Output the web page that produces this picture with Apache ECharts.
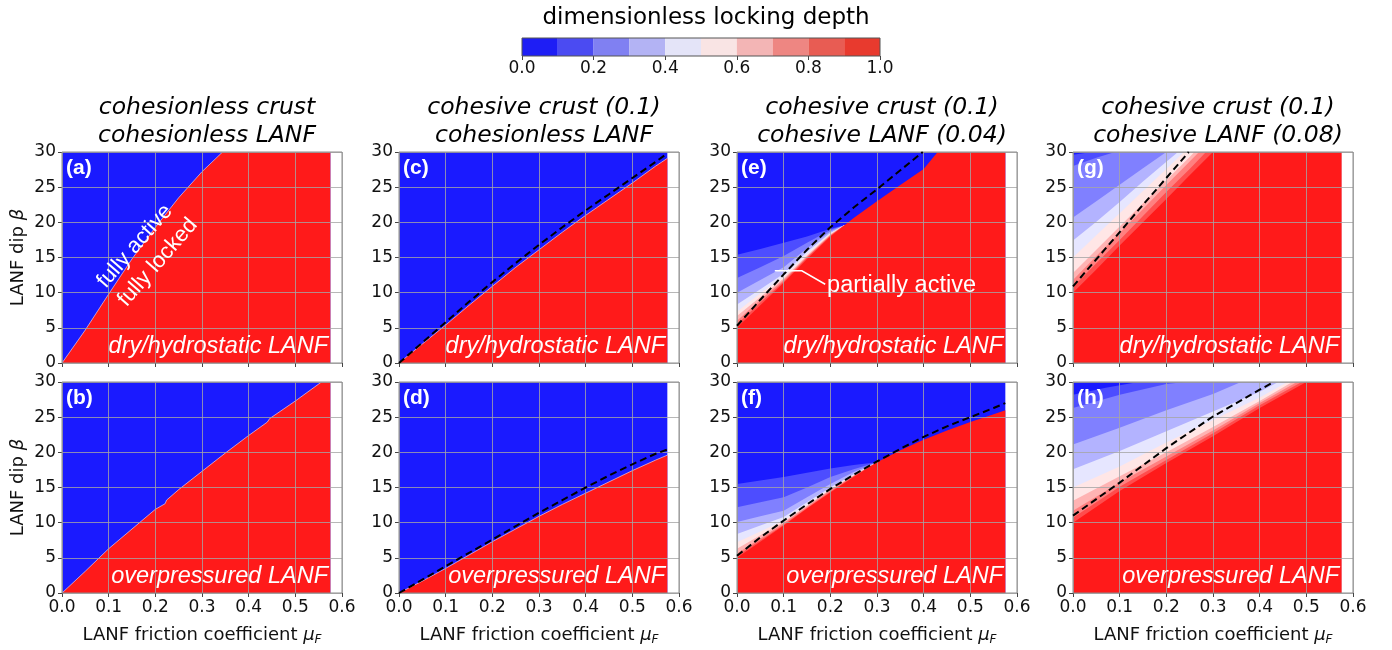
<!DOCTYPE html>
<html><head><meta charset="utf-8">
<script src="https://cdn.jsdelivr.net/npm/echarts@6/dist/echarts.min.js"></script>
<style>html,body{margin:0;padding:0;background:#fff}#c{width:1392px;height:650px}</style>
</head><body><div id="c"></div>
<script>
// ---------------- DATA ----------------
// x: LANF friction coefficient mu_F, y: LANF dip beta (deg)
const xTicks = [0, 0.1, 0.2, 0.3, 0.4, 0.5, 0.6];
const yTicks = [0, 5, 10, 15, 20, 25, 30];
const cbTicks = [0, 0.2, 0.4, 0.6, 0.8, 1.0];
const cbLevels = [0, 0.1, 0.2, 0.3, 0.4, 0.5, 0.6, 0.7, 0.8, 0.9, 1.0];
const domainTop = [[0, 30], [0.575, 30]];   // extent of the computed domain

// (a) cohesionless crust / cohesionless LANF, dry
const a_red = [[0,0],[0.05,4.7],[0.1,9.8],[0.15,14.8],[0.2,19.3],[0.25,23.5],[0.3,27.2],[0.344,30],[0.575,30]];
// (b) overpressured
const b_red = [[0,0],[0.05,3.1],[0.1,6.3],[0.15,9.1],[0.2,11.9],[0.221,12.7],[0.224,13.2],[0.25,14.7],[0.3,17.3],[0.35,19.9],[0.4,22.4],[0.44,24.3],[0.445,24.8],[0.5,27.3],[0.556,30],[0.575,30]];
// (c) cohesive crust (0.1) / cohesionless LANF, dry
const c_red = [[0,0],[0.05,2.7],[0.1,5.4],[0.15,8.2],[0.2,10.9],[0.25,13.6],[0.3,16.1],[0.35,18.6],[0.4,21.0],[0.45,23.3],[0.5,25.6],[0.55,28.0],[0.575,29.1]];
const c_dash = [[0,0],[0.05,2.9],[0.1,5.8],[0.15,8.7],[0.2,11.5],[0.25,14.2],[0.3,16.8],[0.35,19.3],[0.4,21.7],[0.45,24.0],[0.5,26.3],[0.55,28.6],[0.575,29.8]];
// (d) overpressured
const d_red = [[0,0],[0.05,1.7],[0.1,3.5],[0.15,5.4],[0.2,7.3],[0.25,9.1],[0.3,10.9],[0.35,12.6],[0.4,14.2],[0.45,15.8],[0.5,17.4],[0.55,18.9],[0.575,19.6]];
const d_dash = [[0,0],[0.05,1.9],[0.1,3.8],[0.15,5.7],[0.2,7.6],[0.25,9.5],[0.3,11.4],[0.35,13.2],[0.4,15.0],[0.45,16.7],[0.5,18.3],[0.55,19.8],[0.575,20.4]];
// (e) cohesive crust (0.1) / cohesive LANF (0.04), dry — contour lines of locking depth 0.1 ... 0.9
const e_L1 = [[0,15.4],[0.05,16.2],[0.1,17.1],[0.15,18.0],[0.2,19.1],[0.23,19.6]];
const e_L2 = [[0,12.1],[0.05,13.6],[0.1,15.2],[0.15,17.1],[0.2,18.9],[0.23,19.6]];
const e_L3 = [[0,10.0],[0.05,11.8],[0.1,13.6],[0.15,16.3],[0.2,18.7],[0.23,19.6]];
const e_L4 = [[0,8.3],[0.05,10.5],[0.1,12.7],[0.15,15.8],[0.2,18.5],[0.23,19.6]];
const e_L5 = [[0,7.3],[0.05,9.9],[0.1,12.3],[0.15,15.5],[0.2,18.4],[0.23,19.6]];
const e_L6 = [[0,6.7],[0.05,9.4],[0.1,12.0],[0.15,15.3],[0.2,18.3],[0.23,19.6]];
const e_L7 = [[0,6.0],[0.05,9.0],[0.1,11.8],[0.15,15.1],[0.2,18.2],[0.23,19.6]];
const e_L8 = [[0,5.5],[0.05,8.6],[0.1,11.6],[0.15,15.0],[0.2,18.1],[0.23,19.6]];
const e_L9 = [[0,5.0],[0.05,8.2],[0.1,11.4],[0.15,14.8],[0.2,18.0],[0.25,20.6],[0.3,23.0],[0.35,25.3],[0.4,27.6],[0.43,30],[0.575,30]];
const e_dash = [[0,5.3],[0.05,9.0],[0.1,12.6],[0.15,16.1],[0.2,19.3],[0.25,22.1],[0.3,24.7],[0.35,27.4],[0.398,30]];
// (f) overpressured
const f_L1 = [[0,15.5],[0.05,16.0],[0.1,16.5],[0.15,17.1],[0.2,17.7],[0.25,18.2],[0.3,18.6]];
const f_L2 = [[0,12.2],[0.05,12.9],[0.1,13.6],[0.15,15.0],[0.2,16.5],[0.25,17.6],[0.3,18.6]];
const f_L3 = [[0,10.1],[0.05,10.9],[0.1,11.7],[0.15,13.6],[0.2,15.5],[0.25,17.2],[0.3,18.6]];
const f_L4 = [[0,8.4],[0.05,9.6],[0.1,10.8],[0.15,12.9],[0.2,15.0],[0.25,16.9],[0.3,18.6]];
const f_L5 = [[0,7.2],[0.05,8.75],[0.1,10.3],[0.15,12.55],[0.2,14.8],[0.25,16.8],[0.3,18.6]];
const f_L6 = [[0,6.3],[0.05,8.2],[0.1,10.1],[0.15,12.4],[0.2,14.7],[0.25,16.7],[0.3,18.6]];
const f_L7 = [[0,5.6],[0.05,7.75],[0.1,9.9],[0.15,12.25],[0.2,14.6],[0.25,16.65],[0.3,18.6]];
const f_L8 = [[0,5.3],[0.05,7.5],[0.1,9.7],[0.15,12.1],[0.2,14.4],[0.25,16.6],[0.3,18.6]];
const f_L9 = [[0,5.0],[0.05,7.3],[0.1,9.6],[0.15,12.0],[0.2,14.3],[0.25,16.5],[0.3,18.6],[0.35,20.3],[0.4,21.8],[0.45,23.1],[0.5,24.3],[0.55,25.4],[0.575,26.0]];
const f_dash = [[0,5.3],[0.05,7.9],[0.1,10.3],[0.15,12.6],[0.2,14.8],[0.25,16.8],[0.3,18.7],[0.35,20.5],[0.4,22.2],[0.45,23.7],[0.5,25.0],[0.55,26.3],[0.575,27.0]];
// (g) cohesive crust (0.1) / cohesive LANF (0.08), dry
const g_L1 = [[0,29.6],[0.04,30],[0.575,30]];
const g_L2 = [[0,28.0],[0.05,29.2],[0.09,30],[0.575,30]];
const g_L3 = [[0,20.7],[0.05,23.0],[0.1,25.35],[0.15,27.7],[0.2,30],[0.575,30]];
const g_L4 = [[0,17.4],[0.05,20.1],[0.1,22.9],[0.15,25.8],[0.2,28.6],[0.225,30],[0.575,30]];
const g_L5 = [[0,15.0],[0.05,18.15],[0.1,21.3],[0.15,24.45],[0.2,27.6],[0.238,30],[0.575,30]];
const g_L6 = [[0,12.8],[0.05,16.1],[0.1,19.4],[0.15,22.7],[0.2,26.0],[0.25,29.3],[0.26,30],[0.575,30]];
const g_L7 = [[0,11.8],[0.05,15.2],[0.1,18.5],[0.15,21.9],[0.2,25.3],[0.25,28.65],[0.27,30],[0.575,30]];
const g_L8 = [[0,10.8],[0.05,14.2],[0.1,17.5],[0.15,20.9],[0.2,24.3],[0.25,27.6],[0.285,30],[0.575,30]];
const g_L9 = [[0,10.0],[0.05,13.3],[0.1,16.7],[0.15,20.0],[0.2,23.3],[0.25,26.7],[0.3,30],[0.575,30]];
const g_dash = [[0,10.9],[0.05,14.75],[0.1,18.6],[0.15,22.5],[0.2,26.3],[0.248,30]];
// (h) overpressured
const h_L1 = [[0,28.2],[0.07,29.2],[0.14,30],[0.575,30]];
const h_L2 = [[0,26.3],[0.1,28.2],[0.2,29.7],[0.24,30],[0.575,30]];
const h_L3 = [[0,21.1],[0.1,23.5],[0.2,26.0],[0.3,28.3],[0.36,30],[0.575,30]];
const h_L4 = [[0,17.6],[0.1,20.2],[0.2,23.0],[0.3,25.8],[0.4,28.6],[0.44,30],[0.575,30]];
const h_L5 = [[0,15.0],[0.1,18.0],[0.2,21.4],[0.3,24.6],[0.4,27.8],[0.46,30],[0.575,30]];
const h_L6 = [[0,13.1],[0.1,16.6],[0.2,20.0],[0.3,23.6],[0.4,27.3],[0.47,30],[0.575,30]];
const h_L7 = [[0,11.7],[0.1,15.7],[0.2,19.4],[0.3,23.1],[0.4,27.0],[0.48,30],[0.575,30]];
const h_L8 = [[0,10.7],[0.1,15.1],[0.2,18.9],[0.3,22.7],[0.4,26.7],[0.49,30],[0.575,30]];
const h_L9 = [[0,10.0],[0.1,14.5],[0.2,18.5],[0.3,22.3],[0.4,26.3],[0.5,30],[0.575,30]];
const h_dash = [[0,11.0],[0.1,15.7],[0.2,20.6],[0.3,25.1],[0.4,28.9],[0.43,30]];

// texts
const titles = ['cohesionless crust\ncohesionless LANF', 'cohesive crust (0.1)\ncohesionless LANF',
                'cohesive crust (0.1)\ncohesive LANF (0.04)', 'cohesive crust (0.1)\ncohesive LANF (0.08)'];
const rowNotes = ['dry/hydrostatic LANF', 'overpressured LANF'];
// annotation anchors (data coordinates)
const activeTextAt = [0.156, 16.6];
const lockedTextAt = [0.205, 14.3];
const partialTextAt = [0.193, 11.0];
const partialLeader = [[0.081, 13.1], [0.139, 13.1], [0.189, 11.2]];

// ---------------- STYLE ----------------
const bandColors = ['#1a1aff','#4d4dff','#8080ff','#b3b3ff','#e6e6ff','#ffe6e6','#ffb3b3','#ff8080','#ff4d4d','#ff1a1a'];
const cbColors = ['#1e1ef5','#4b4bf2','#8080f2','#b3b3f4','#e4e4f8','#f9e4e4','#f3b5b5','#ee8682','#e85c53','#e83a2e'];
const gridLefts = [62, 399, 737, 1073];
const gridTops = [152, 382];
const GW = 280, GH = 211;
const TICKF = 'DejaVu Sans';
const ARIAL = '"Liberation Sans", Arial, sans-serif';

const panels = [
  {label:'(a)', col:0, row:0, levels:[[a_red,9]], dash:null, edge:true},
  {label:'(b)', col:0, row:1, levels:[[b_red,9]], dash:null, edge:true},
  {label:'(c)', col:1, row:0, levels:[[c_red,9]], dash:c_dash, edge:true},
  {label:'(d)', col:1, row:1, levels:[[d_red,9]], dash:d_dash, edge:true},
  {label:'(e)', col:2, row:0, levels:[[e_L1,1],[e_L2,2],[e_L3,3],[e_L4,4],[e_L5,5],[e_L6,6],[e_L7,7],[e_L8,8],[e_L9,9]], dash:e_dash, edge:false},
  {label:'(f)', col:2, row:1, levels:[[f_L1,1],[f_L2,2],[f_L3,3],[f_L4,4],[f_L5,5],[f_L6,6],[f_L7,7],[f_L8,8],[f_L9,9]], dash:f_dash, edge:false},
  {label:'(g)', col:3, row:0, levels:[[g_L1,1],[g_L2,2],[g_L3,3],[g_L4,4],[g_L5,5],[g_L6,6],[g_L7,7],[g_L8,8],[g_L9,9]], dash:g_dash, edge:false},
  {label:'(h)', col:3, row:1, levels:[[h_L1,1],[h_L2,2],[h_L3,3],[h_L4,4],[h_L5,5],[h_L6,6],[h_L7,7],[h_L8,8],[h_L9,9]], dash:h_dash, edge:false}
];

const grids = [], xAxes = [], yAxes = [], series = [], graphics = [], titleComps = [];
const splitStyle = {color:'rgba(165,165,165,0.8)', width:1};

panels.forEach((p, i) => {
  const L = gridLefts[p.col], T = gridTops[p.row];
  grids.push({left:L, top:T, width:GW, height:GH, show:true, borderColor:'#8c8c8c', borderWidth:1, backgroundColor:'transparent', z:5});
  xAxes.push({type:'value', gridIndex:i, min:xTicks[0], max:xTicks[xTicks.length-1], interval:0.1, z:4,
    axisLine:{show:false}, axisTick:{show:true, length:4, lineStyle:{color:'#444'}},
    axisLabel:{show:p.row===1, formatter:v=>v.toFixed(1), fontSize:17, color:'#111', fontFamily:TICKF, margin:6},
    splitLine:{show:true, lineStyle:splitStyle},
    name: p.row===1 ? 'LANF friction coefficient {i|μ}{s|F}' : '', nameLocation:'middle', nameGap:32,
    nameTextStyle:{fontSize:18, color:'#111', fontFamily:TICKF,
      rich:{i:{fontSize:18, fontStyle:'italic', fontFamily:TICKF, color:'#111'},
            s:{fontSize:12, fontStyle:'italic', fontFamily:TICKF, color:'#111', padding:[9,0,0,0]}}}
  });
  yAxes.push({type:'value', gridIndex:i, min:yTicks[0], max:yTicks[yTicks.length-1], interval:5, z:4,
    axisLine:{show:false}, axisTick:{show:true, length:4, lineStyle:{color:'#444'}},
    axisLabel:{fontSize:17, color:'#111', fontFamily:TICKF, margin:6},
    splitLine:{show:true, lineStyle:splitStyle},
    name: p.col===0 ? 'LANF dip {i|β}' : '', nameLocation:'middle', nameRotate:90, nameGap:35,
    nameTextStyle:{fontSize:18, color:'#111', fontFamily:TICKF,
      rich:{i:{fontSize:18, fontStyle:'italic', fontFamily:TICKF, color:'#111'}}}
  });
  const base = {type:'line', xAxisIndex:i, yAxisIndex:i, symbol:'none', showSymbol:false, silent:true, animation:false};
  series.push(Object.assign({}, base, {data:domainTop, lineStyle:{width:0}, areaStyle:{color:bandColors[0], opacity:1}, z:1}));
  p.levels.forEach(([d, ci], k) => {
    const last = k === p.levels.length - 1;
    series.push(Object.assign({}, base, {data:d,
      lineStyle: (last && p.edge) ? {width:1, color:'rgba(255,255,255,0.55)'} : {width:0},
      areaStyle:{color:bandColors[ci], opacity:1}, z:1}));
  });
  if (p.dash) {
    series.push(Object.assign({}, base, {data:p.dash, lineStyle:{width:2, color:'#000', type:[7,4]}, z:6}));
  }
  graphics.push({type:'text', left:L+4, top:T+6, z:20, style:{text:p.label, fill:'#fff', font:'bold 21px ' + ARIAL}});
  graphics.push({type:'text', x:L+266, y:T+GH-5, z:20, style:{text:rowNotes[p.row], fill:'#fff', align:'right', verticalAlign:'bottom', font:'italic 23.5px ' + ARIAL}});
});

titles.forEach((t, c) => {
  titleComps.push({text:t, left:gridLefts[c]+GW/2, top:89, textAlign:'center',
    textStyle:{fontSize:23.5, fontStyle:'italic', fontWeight:'normal', fontFamily:TICKF, color:'#000', lineHeight:28}});
});
titleComps.push({text:'dimensionless locking depth', left:701, top:2, textAlign:'center',
  textStyle:{fontSize:23, fontWeight:'normal', fontFamily:TICKF, color:'#000'}});

// colorbar
const CB = panels.length;
grids.push({left:522, top:38, width:358, height:18, show:true, borderColor:'#555', borderWidth:1, backgroundColor:'transparent', z:5});
xAxes.push({type:'value', gridIndex:CB, min:cbTicks[0], max:cbTicks[cbTicks.length-1], interval:0.2,
  axisLine:{show:false}, axisTick:{show:true, length:4, lineStyle:{color:'#444'}}, splitLine:{show:false},
  axisLabel:{formatter:v=>v.toFixed(1), fontSize:17, color:'#111', fontFamily:TICKF, margin:4}});
yAxes.push({type:'category', gridIndex:CB, data:['cb'], show:false});
for (let k = 0; k < cbLevels.length - 1; k++) {
  series.push({type:'bar', xAxisIndex:CB, yAxisIndex:CB, stack:'cb', barWidth:'100%', silent:true, animation:false,
    data:[+(cbLevels[k+1]-cbLevels[k]).toFixed(3)], itemStyle:{color:cbColors[k]}});
}

const chart = echarts.init(document.getElementById('c'), null, {renderer:'canvas'});
chart.setOption({animation:false, title:titleComps, grid:grids, xAxis:xAxes, yAxis:yAxes, series:series, graphic:graphics});

// annotations placed through the axes' own scales
const px = (gi, pt) => chart.convertToPixel({gridIndex:gi}, pt);
const rotA = 49 * Math.PI / 180;
const pa = px(0, activeTextAt), pl = px(0, lockedTextAt), pp = px(4, partialTextAt);
const leader = partialLeader.map(pt => px(4, pt));
const extra = [
  {type:'text', x:pa[0], y:pa[1], rotation:rotA, z:20, style:{text:'fully active', fill:'#fff', align:'center', verticalAlign:'middle', font:'22px ' + ARIAL}},
  {type:'text', x:pl[0], y:pl[1], rotation:rotA, z:20, style:{text:'fully locked', fill:'#fff', align:'center', verticalAlign:'middle', font:'22px ' + ARIAL}},
  {type:'text', x:pp[0], y:pp[1], z:20, style:{text:'partially active', fill:'#fff', align:'left', verticalAlign:'middle', font:'23.5px ' + ARIAL}},
  {type:'polyline', z:20, shape:{points:leader}, style:{stroke:'#fff', lineWidth:1.5, fill:null}}
];
chart.setOption({graphic: graphics.concat(extra)});
</script></body></html>
